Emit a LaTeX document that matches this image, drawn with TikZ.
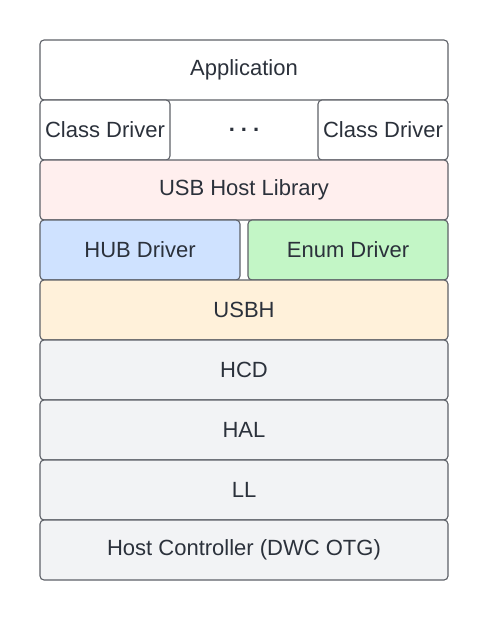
\documentclass[tikz,border=0pt]{standalone}
\usepackage{fontspec}
\setmainfont{Liberation Sans}
\definecolor{edge}{HTML}{5E6168}
\definecolor{txt}{HTML}{2B313B}
\definecolor{pinkf}{HTML}{FFEFEE}
\definecolor{bluef}{HTML}{CFE2FF}
\definecolor{greenf}{HTML}{C3F6C6}
\definecolor{yellowf}{HTML}{FFF1DA}
\definecolor{grayf}{HTML}{F2F3F5}
\begin{document}
\begin{tikzpicture}[x=1pt,y=-1pt,
  layer/.style={draw=edge,line width=1.1pt,rounded corners=4pt},
  lbl/.style={text=txt,font=\fontsize{22}{26}\selectfont,inner sep=0pt},
]
\useasboundingbox[fill=white] (0,0) rectangle (488,620);
\draw[layer,fill=white] (40,40) rectangle (448,100);
\node[lbl] (app) at (244,70) {Application};
\draw[layer,fill=white] (40,100) rectangle (170,160);
\node[lbl] (cd1) at (105,130) {Class Driver};
\node[lbl,font=\bfseries\fontsize{22}{26}\selectfont] (dots) at (244,130) {.\hspace{6pt}.\hspace{6pt}.};
\draw[layer,fill=white] (318,100) rectangle (448,160);
\node[lbl] (cd2) at (383,130) {Class Driver};
\draw[layer,fill=pinkf] (40,160) rectangle (448,220);
\node[lbl] (lib) at (244,190) {USB Host Library};
\draw[layer,fill=bluef] (40,220) rectangle (240,280);
\node[lbl] (hub) at (140,250) {HUB Driver};
\draw[layer,fill=greenf] (248,220) rectangle (448,280);
\node[lbl] (enum) at (348,250) {Enum Driver};
\draw[layer,fill=yellowf] (40,280) rectangle (448,340);
\node[lbl] (usbh) at (244,310) {USBH};
\draw[layer,fill=grayf] (40,340) rectangle (448,400);
\node[lbl] (hcd) at (244,370) {HCD};
\draw[layer,fill=grayf] (40,400) rectangle (448,460);
\node[lbl] (hal) at (244,430) {HAL};
\draw[layer,fill=grayf] (40,460) rectangle (448,520);
\node[lbl] (ll) at (244,490) {LL};
\draw[layer,fill=grayf] (40,520) rectangle (448,580);
\node[lbl] (hc) at (244,550) {Host Controller (DWC OTG)};
\end{tikzpicture}
\end{document}
